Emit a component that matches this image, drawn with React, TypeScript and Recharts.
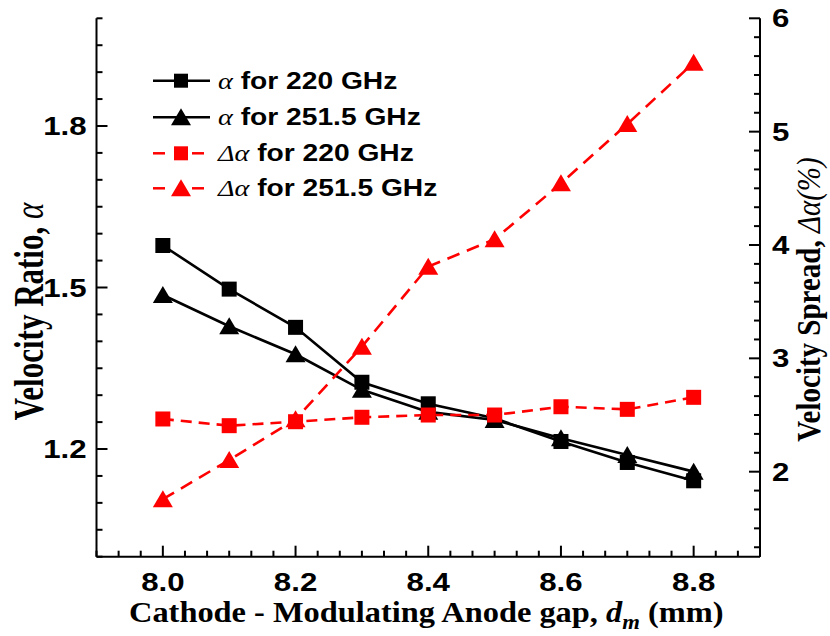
import { LineChart, Line, XAxis, YAxis, Legend } from "recharts";

// gap d_m (mm)
const gap = [8.0, 8.1, 8.2, 8.3, 8.4, 8.5, 8.6, 8.7, 8.8];
// velocity ratio alpha
const alpha220 = [1.578, 1.497, 1.426, 1.324, 1.284, 1.257, 1.214, 1.175, 1.141];
const alpha2515 = [1.486, 1.428, 1.376, 1.31, 1.269, 1.254, 1.22, 1.189, 1.158];
// velocity spread (%)
const spread220 = [2.465, 2.406, 2.441, 2.48, 2.5, 2.5, 2.573, 2.55, 2.656];
const spread2515 = [1.757, 2.103, 2.462, 3.103, 3.809, 4.05, 4.544, 5.067, 5.608];

const xMajor = [8.0, 8.2, 8.4, 8.6, 8.8];
const xLabels = ["8.0", "8.2", "8.4", "8.6", "8.8"];
const leftMajor = [1.2, 1.5, 1.8];
const leftLabels = ["1.2", "1.5", "1.8"];
const rightMajor = [2, 3, 4, 5, 6];
const rightLabels = ["2", "3", "4", "5", "6"];

const legendSymbols = ["α", "α", "Δα", "Δα"];
const legendTexts = ["for 220 GHz", "for 251.5 GHz", "for 220 GHz", "for 251.5 GHz"];

const X_DOMAIN: [number, number] = [7.9, 8.9];
const L_DOMAIN: [number, number] = [1.0, 2.0];
const R_DOMAIN: [number, number] = [1.25, 6];

// minor ticks: six per major step
const xTicks = Array.from({ length: 31 }, (_, i) => 7.9 + i / 30);
const leftTicks = Array.from({ length: 21 }, (_, i) => 1.0 + i * 0.05);
const rightTicks = Array.from({ length: 29 }, (_, i) => 6 - i / 6);

const rows = gap.map((g, i) => ({
  g,
  a220: alpha220[i],
  a2515: alpha2515[i],
  s220: spread220[i],
  s2515: spread2515[i],
}));

const RED = "#ff0000";
const SANS = '"Liberation Sans", Arial, sans-serif';
const SERIF = '"Liberation Serif", "Times New Roman", serif';
const SX = 1.2; // glyphs are drawn a bit wide

const findMajor = (v: number, majors: number[]) =>
  majors.findIndex((m) => Math.abs(m - v) < 1e-6);

const BottomTick = (p: any) => {
  const i = findMajor(p.payload.value, xMajor);
  return (
    <g>
      <line x1={p.x} x2={p.x} y1={p.y} y2={p.y - (i >= 0 ? 11 : 6)} stroke="#000" strokeWidth={2} />
      {i >= 0 && (
        <text
          transform={`translate(${p.x},${p.y + 34}) scale(${SX},1)`}
          textAnchor="middle"
          fontFamily={SANS}
          fontWeight="bold"
          fontSize={26}
        >
          {xLabels[i]}
        </text>
      )}
    </g>
  );
};

const TopTick = (p: any) => {
  const i = findMajor(p.payload.value, xMajor);
  return <line x1={p.x} x2={p.x} y1={p.y} y2={p.y + (i >= 0 ? 11 : 6)} stroke="#000" strokeWidth={2} />;
};

const LeftTick = (p: any) => {
  const i = findMajor(p.payload.value, leftMajor);
  return (
    <g>
      <line x1={p.x} x2={p.x + (i >= 0 ? 11 : 6)} y1={p.y} y2={p.y} stroke="#000" strokeWidth={2} />
      {i >= 0 && (
        <text
          transform={`translate(${p.x - 10},${p.y + 9}) scale(${SX},1)`}
          textAnchor="end"
          fontFamily={SANS}
          fontWeight="bold"
          fontSize={26}
        >
          {leftLabels[i]}
        </text>
      )}
    </g>
  );
};

const RightTick = (p: any) => {
  const i = findMajor(p.payload.value, rightMajor);
  return (
    <g>
      <line x1={p.x} x2={p.x - (i >= 0 ? 11 : 6)} y1={p.y} y2={p.y} stroke="#000" strokeWidth={2} />
      {i >= 0 && (
        <text
          transform={`translate(${p.x + 12},${p.y + 9}) scale(${SX},1)`}
          textAnchor="start"
          fontFamily={SANS}
          fontWeight="bold"
          fontSize={26}
        >
          {rightLabels[i]}
        </text>
      )}
    </g>
  );
};

const squareDot = (color: string) => (p: any) => (
  <rect key={`sq-${p.index}`} x={p.cx - 7.5} y={p.cy - 7.5} width={15} height={15} fill={color} />
);

const triangleDot = (color: string) => (p: any) => (
  <polygon
    key={`tr-${p.index}`}
    points={`${p.cx},${p.cy - 9} ${p.cx + 10},${p.cy + 8} ${p.cx - 10},${p.cy + 8}`}
    fill={color}
  />
);

const XTitle = (p: any) => {
  const vb = p.viewBox;
  const cx = vb.x + vb.width / 2;
  return (
    <text
      transform={`translate(${cx - 2},${vb.y + 65}) scale(1.08,1)`}
      textAnchor="middle"
      fontFamily={SERIF}
      fontWeight="bold"
      fontSize={30}
    >
      Cathode - Modulating Anode gap,{" "}
      <tspan fontStyle="italic">d</tspan>
      <tspan fontStyle="italic" fontSize={21} dy={7}>m</tspan>
      <tspan dy={-7}> (mm)</tspan>
    </text>
  );
};

const LeftTitle = (p: any) => {
  const vb = p.viewBox;
  return (
    <text
      transform={`translate(43,${vb.y + vb.height / 2 + 24}) rotate(-90) scale(1,1.35)`}
      textAnchor="middle"
      fontFamily={SERIF}
      fontWeight="bold"
      fontSize={31}
    >
      Velocity Ratio, <tspan fontStyle="italic" fontWeight="normal">α</tspan>
    </text>
  );
};

const RightTitle = (p: any) => {
  const vb = p.viewBox;
  return (
    <text
      transform={`translate(820,${vb.y + vb.height / 2 + 12}) rotate(-90) scale(1,1.15)`}
      textAnchor="middle"
      fontFamily={SERIF}
      fontWeight="bold"
      fontSize={29}
    >
      Velocity Spread, <tspan fontStyle="italic" fontWeight="normal">Δα(%)</tspan>
    </text>
  );
};

const LegendBox = () => {
  const rowY = [20.7, 57.3, 93.3, 128.3];
  return (
    <svg width={330} height={150} style={{ overflow: "visible" }}>
      {rowY.map((y, i) => {
        const red = i >= 2;
        const color = red ? RED : "#000";
        const tri = i % 2 === 1;
        return (
          <g key={i}>
            {red ? (
              <>
                <line x1={13} x2={25} y1={y} y2={y} stroke={color} strokeWidth={2.5} />
                <line x1={52} x2={64} y1={y} y2={y} stroke={color} strokeWidth={2.5} />
              </>
            ) : (
              <line x1={13} x2={70} y1={y} y2={y} stroke={color} strokeWidth={2.5} />
            )}
            {tri ? (
              <polygon
                points={`${41},${y - 9} ${51},${y + 8} ${31},${y + 8}`}
                fill={color}
              />
            ) : (
              <rect x={34} y={y - 7} width={14} height={14} fill={color} />
            )}
            <text transform={`translate(78,${y + 8}) scale(${SX},1)`} fontSize={23.5}>
              <tspan fontFamily={SERIF} fontStyle="italic">
                {legendSymbols[i]}
              </tspan>
              <tspan fontFamily={SANS} fontWeight="bold">
                {" "}
                {legendTexts[i]}
              </tspan>
            </text>
          </g>
        );
      })}
    </svg>
  );
};

export default function App() {
  return (
    <div style={{ position: "absolute", left: 0, top: 0, width: 830, height: 636, background: "#fff" }}>
      <LineChart width={830} height={636} data={rows} margin={{ top: 18.3, right: 0, bottom: 0, left: 0 }}>
        <XAxis
          xAxisId="bottom"
          dataKey="g"
          type="number"
          domain={X_DOMAIN}
          ticks={xTicks}
          interval={0}
          height={79.3}
          tickSize={0}
          tickMargin={0}
          tickLine={false}
          tick={<BottomTick />}
          axisLine={{ stroke: "#000", strokeWidth: 2 }}
          label={<XTitle />}
        />
        <XAxis
          xAxisId="top"
          orientation="top"
          dataKey="g"
          type="number"
          domain={X_DOMAIN}
          ticks={xTicks}
          interval={0}
          height={0}
          tickSize={0}
          tickMargin={0}
          tickLine={false}
          tick={<TopTick />}
          axisLine={{ stroke: "#000", strokeWidth: 2 }}
        />
        <YAxis
          yAxisId="left"
          type="number"
          domain={L_DOMAIN}
          ticks={leftTicks}
          interval={0}
          width={96.5}
          tickSize={0}
          tickMargin={0}
          tickLine={false}
          tick={<LeftTick />}
          axisLine={{ stroke: "#000", strokeWidth: 2 }}
          label={<LeftTitle />}
        />
        <YAxis
          yAxisId="right"
          orientation="right"
          type="number"
          domain={R_DOMAIN}
          ticks={rightTicks}
          interval={0}
          width={70}
          tickSize={0}
          tickMargin={0}
          tickLine={false}
          tick={<RightTick />}
          axisLine={{ stroke: "#000", strokeWidth: 2 }}
          label={<RightTitle />}
        />
        <Legend
          layout="vertical"
          align="center"
          verticalAlign="middle"
          wrapperStyle={{ left: 140, top: 60, width: 330, height: 150 }}
          content={<LegendBox />}
        />
        <Line
          xAxisId="bottom"
          yAxisId="left"
          dataKey="a220"
          name="α for 220 GHz"
          stroke="#000"
          strokeWidth={2.6}
          dot={squareDot("#000")}
          activeDot={false}
          isAnimationActive={false}
        />
        <Line
          xAxisId="bottom"
          yAxisId="left"
          dataKey="a2515"
          name="α for 251.5 GHz"
          stroke="#000"
          strokeWidth={2.6}
          dot={triangleDot("#000")}
          activeDot={false}
          isAnimationActive={false}
        />
        <Line
          xAxisId="bottom"
          yAxisId="right"
          dataKey="s220"
          name="Δα for 220 GHz"
          stroke={RED}
          strokeWidth={2.6}
          strokeDasharray="11 7"
          dot={squareDot(RED)}
          activeDot={false}
          isAnimationActive={false}
        />
        <Line
          xAxisId="bottom"
          yAxisId="right"
          dataKey="s2515"
          name="Δα for 251.5 GHz"
          stroke={RED}
          strokeWidth={2.6}
          strokeDasharray="13 8"
          dot={triangleDot(RED)}
          activeDot={false}
          isAnimationActive={false}
        />
      </LineChart>
    </div>
  );
}
